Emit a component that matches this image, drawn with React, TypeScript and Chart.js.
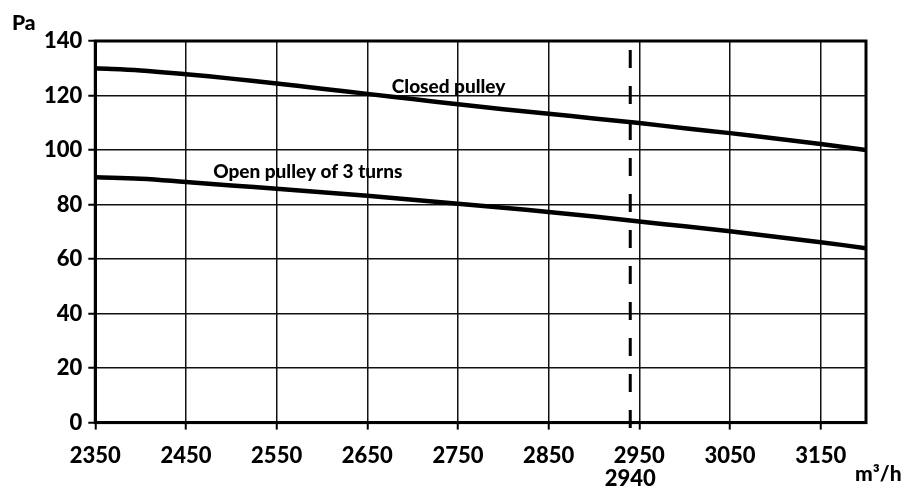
import React, { useEffect, useRef } from "react";
import { Chart, registerables } from "chart.js";

Chart.register(...registerables);

const flowValues = [2350, 2400, 2450, 2500, 2550, 2600, 2650, 2700, 2750, 2800, 2850, 2900, 2950, 3000, 3050, 3100, 3150, 3200];
const closedPulley = [130, 129.2, 127.8, 126.2, 124.4, 122.5, 120.6, 118.7, 116.8, 115, 113.3, 111.6, 109.9, 108, 106.2, 104.2, 102.2, 100];
const openPulley3 = [90, 89.5, 88.3, 87, 85.8, 84.5, 83.2, 81.8, 80.3, 78.8, 77.3, 75.6, 73.8, 72, 70.2, 68.2, 66.2, 64];
const xTickValues = [2350, 2450, 2550, 2650, 2750, 2850, 2950, 3050, 3150];
const xMin = 2350;
const xMax = 3200;
const yMax = 140;
const markerFlow = 2940;
const closedLabel = { text: "Closed pulley", x: 2677, y: 123.2 };
const openLabel = { text: "Open pulley of 3 turns", x: 2480, y: 91.9 };

const FONT = "Lato, 'DejaVu Sans', sans-serif";

export default function App() {
  const ref = useRef<HTMLCanvasElement | null>(null);
  useEffect(() => {
    document.body.style.margin = "0";
    const canvas = ref.current!;
    const overlay = {
      id: "overlay",
      afterDatasetsDraw(chart: any) {
        const { ctx, chartArea, scales } = chart;
        const xs = scales.x;
        const ys = scales.y;
        ctx.save();
        ctx.strokeStyle = "#000";
        ctx.lineWidth = 3;
        ctx.strokeRect(chartArea.left, chartArea.top, chartArea.right - chartArea.left, chartArea.bottom - chartArea.top);
        const mx = xs.getPixelForValue(markerFlow);
        ctx.setLineDash([18, 18]);
        ctx.lineWidth = 3;
        ctx.beginPath();
        ctx.moveTo(mx, chartArea.top + 9);
        ctx.lineTo(mx, chartArea.bottom + 16);
        ctx.stroke();
        ctx.setLineDash([]);
        ctx.fillStyle = "#000";
        ctx.font = "900 22px " + FONT;
        ctx.textAlign = "center";
        ctx.textBaseline = "middle";
        ctx.fillText(String(markerFlow), mx, chartArea.bottom + 56);
        ctx.font = "900 19px " + FONT;
        ctx.textAlign = "left";
        ctx.fillText(closedLabel.text, xs.getPixelForValue(closedLabel.x), ys.getPixelForValue(closedLabel.y));
        ctx.fillText(openLabel.text, xs.getPixelForValue(openLabel.x), ys.getPixelForValue(openLabel.y));
        ctx.font = "900 21px " + FONT;
        ctx.textAlign = "left";
        ctx.fillText("Pa", 12, 23);
        ctx.fillText("m³/h", chartArea.right - 11, chartArea.bottom + 52);
        ctx.restore();
      },
    };
    const tickFont = { family: FONT, size: 22, weight: "900" };
    const chart = new Chart(canvas, {
      type: "line",
      data: {
        datasets: [
          {
            label: "Closed pulley",
            data: flowValues.map((x, i) => ({ x, y: closedPulley[i] })),
            borderColor: "#000",
            borderWidth: 4.5,
            pointRadius: 0,
            tension: 0.4,
          },
          {
            label: "Open pulley of 3 turns",
            data: flowValues.map((x, i) => ({ x, y: openPulley3[i] })),
            borderColor: "#000",
            borderWidth: 4.5,
            pointRadius: 0,
            tension: 0.4,
          },
        ],
      },
      options: {
        animation: false,
        responsive: true,
        maintainAspectRatio: false,
        layout: { padding: { left: 38, right: 47, top: 41, bottom: 8 } },
        plugins: { legend: { display: false }, tooltip: { enabled: false } },
        scales: {
          x: {
            type: "linear",
            min: xMin,
            max: xMax,
            afterBuildTicks: (scale: any) => {
              scale.ticks = xTickValues.map((v) => ({ value: v }));
            },
            grid: { color: "#111", lineWidth: 1.5, tickLength: 7, tickColor: "#000", tickWidth: 2 },
            border: { display: true, color: "#000", width: 3 },
            ticks: { color: "#000", font: tickFont, padding: 13, maxRotation: 0, autoSkip: false, callback: (v: any) => String(v) },
          },
          y: {
            min: 0,
            max: yMax,
            ticks: { stepSize: 20, color: "#000", font: tickFont, padding: 6, callback: (v: any) => String(v) },
            grid: { color: "#111", lineWidth: 1.5, tickLength: 7, tickColor: "#000", tickWidth: 2 },
            border: { display: true, color: "#000", width: 3 },
          },
        },
      },
      plugins: [overlay],
    } as any);
    return () => chart.destroy();
  }, []);
  return (
    <div style={{ position: "absolute", left: 0, top: 0, width: 913, height: 490, background: "#fff" }}>
      <canvas ref={ref} />
    </div>
  );
}
